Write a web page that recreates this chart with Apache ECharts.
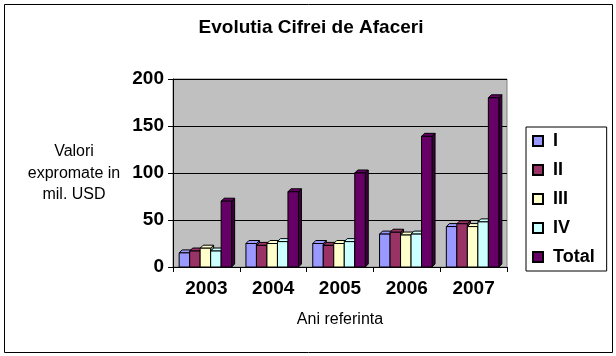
<!DOCTYPE html>
<html><head><meta charset="utf-8">
<script src="https://cdn.jsdelivr.net/npm/echarts@6/dist/echarts.min.js"></script>
<style>html,body{margin:0;padding:0;background:#fff}#c{width:616px;height:356px}</style>
</head><body><div id="c"></div>
<script>
var years = ['2003','2004','2005','2006','2007'];
var seriesNames = ['I','II','III','IV','Total'];
var q1 = [15, 25, 25, 35, 43];
var q2 = [17, 23, 23, 37, 46];
var q3 = [20, 25, 25, 34, 43];
var q4 = [17, 27, 27, 35, 48];
var total = [70, 80, 100, 139, 180];
var yTicks = [0, 50, 100, 150, 200];

var FONT = 'Liberation Sans, Arial, sans-serif';
var colors = ['#9999FF','#993366','#FFFFCC','#CCFFFF','#660066'];
var sideColors = ['#5C5C99','#5C1F3D','#99997A','#7A9999','#3D003D'];
var allData = [q1,q2,q3,q4,total];
var BW = 10.5, D = 3;

function makeRender(k){
  return function(params, api){
    var i = api.value(0), v = api.value(1);
    var top = api.coord([i, v]);
    var base = api.coord([i, 0]);
    var x0 = base[0] - 2.5*BW - 1 + k*BW;
    var yT = top[1], yB = base[1];
    return {type:'group', children:[
      {type:'polygon', shape:{points:[[x0+BW,yT],[x0+BW+D,yT-D],[x0+BW+D,yB-D],[x0+BW,yB]]},
       style:{fill:sideColors[k], stroke:'#000', lineWidth:1}},
      {type:'polygon', shape:{points:[[x0,yT],[x0+D,yT-D],[x0+BW+D,yT-D],[x0+BW,yT]]},
       style:{fill:colors[k], stroke:'#000', lineWidth:1}},
      {type:'rect', shape:{x:x0, y:yT, width:BW, height:yB-yT},
       style:{fill:colors[k], stroke:'#000', lineWidth:1}}
    ]};
  };
}

var series = seriesNames.map(function(n,k){
  return {
    name:n, type:'custom', renderItem: makeRender(k),
    itemStyle:{color:colors[k], borderColor:'#000', borderWidth:1},
    encode:{x:0, y:1},
    data: allData[k].map(function(v,i){return [i,v];})
  };
});

var chart = echarts.init(document.getElementById('c'));
chart.setOption({
  animation:false,
  textStyle:{fontFamily:FONT},
  title:{text:'Evolutia Cifrei de Afaceri', left:306, textAlign:'center', top:13,
    textStyle:{fontSize:19, fontWeight:'bold', color:'#000', fontFamily:FONT}},
  grid:{left:173, right:109, top:79, bottom:89, show:true, backgroundColor:'#C0C0C0', borderColor:'#808080', borderWidth:1},
  legend:{
    orient:'vertical', left:526, top:127,
    padding:[4,12,4,6], itemGap:9, itemWidth:10, itemHeight:10, icon:'rect',
    backgroundColor:'#fff', borderColor:'#000', borderWidth:1,
    textStyle:{fontSize:18, fontWeight:'bold', color:'#000', lineHeight:20, padding:[0,0,0,5], fontFamily:FONT},
    data: seriesNames
  },
  xAxis:{type:'category', data:years, boundaryGap:true,
    name:'Ani referinta', nameLocation:'middle', nameGap:45,
    nameTextStyle:{fontSize:16, color:'#000', fontFamily:FONT},
    axisLine:{lineStyle:{color:'#000'}},
    axisTick:{show:true, length:5, lineStyle:{color:'#000'}},
    axisLabel:{fontSize:19, fontWeight:'bold', color:'#000', margin:12, fontFamily:FONT}},
  yAxis:{type:'value', min:yTicks[0], max:yTicks[yTicks.length-1], interval:50,
    axisLine:{show:true, lineStyle:{color:'#000'}},
    axisTick:{show:true, length:5, lineStyle:{color:'#000'}},
    axisLabel:{fontSize:19, fontWeight:'bold', color:'#000', margin:9, fontFamily:FONT},
    splitLine:{lineStyle:{color:'#000', width:1}}},
  graphic:[
    {type:'rect', left:2, top:2, shape:{width:608, height:348}, style:{fill:null, stroke:'#000', lineWidth:1}, silent:true, z:-1},
    {type:'text', x:74, y:141, style:{text:'Valori\nexpromate in\nmil. USD', align:'center', fontSize:16, lineHeight:21.5, fill:'#000', fontFamily:FONT}}
  ],
  series: series
});
</script></body></html>
